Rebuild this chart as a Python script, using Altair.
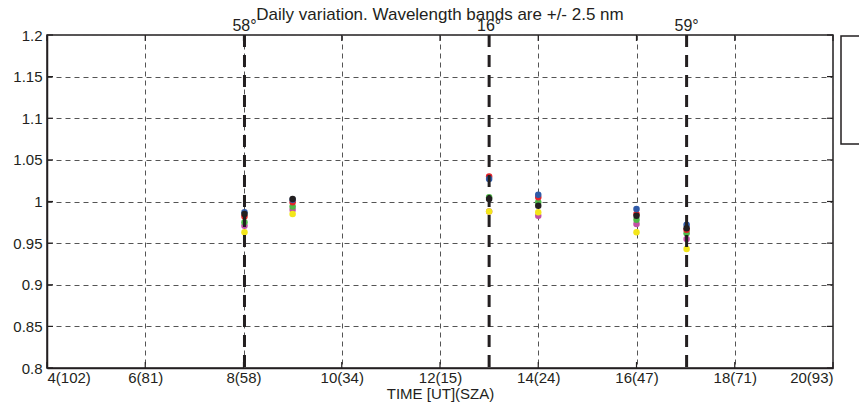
import altair as alt
import pandas as pd

# ---- data ----
times = [8.02, 9.0, 13.0, 14.0, 16.0, 17.02]
series_names = ["Band 1", "Band 2", "Band 3", "Band 4", "Band 5", "Band 6"]
series_colors = ["#c24fa6", "#f3e61a", "#4fb848", "#e4242b", "#2f5aa8", "#231f20"]
band1 = [0.971, 0.990, 0.988, 0.983, 0.973, 0.955]   # magenta
band2 = [0.963, 0.985, 0.988, 0.987, 0.963, 0.943]   # yellow
band3 = [0.975, 0.994, 1.005, 0.999, 0.978, 0.962]   # green
band4 = [0.982, 0.999, 1.030, 1.005, 0.985, 0.966]   # red
band5 = [0.987, 1.002, 1.027, 1.008, 0.991, 0.972]   # blue
band6 = [0.985, 1.003, 1.003, 0.995, 0.983, 0.968]   # black

sza_times = [8.02, 13.0, 17.02]
sza_labels = ["58°", "16°", "59°"]

x_ticks = [4, 6, 8, 10, 12, 14, 16, 18, 20]
x_tick_labels = ["4(102)", "6(81)", "8(58)", "10(34)", "12(15)", "14(24)", "16(47)", "18(71)", "20(93)"]
y_ticks = [0.8, 0.85, 0.9, 0.95, 1.0, 1.05, 1.1, 1.15, 1.2]

title_text = "Daily variation. Wavelength bands are +/- 2.5 nm"
x_title = "TIME [UT](SZA)"

# ---- build tables ----
rows = []
for i, (name, vals) in enumerate(zip(series_names, [band1, band2, band3, band4, band5, band6])):
    for t, v in zip(times, vals):
        rows.append({"time": t, "value": v, "band": name, "order": i})
df = pd.DataFrame(rows)
sza_df = pd.DataFrame({"time": sza_times, "label": sza_labels})
xt_df = pd.DataFrame({"t": x_ticks})
yt_df = pd.DataFrame({"v": y_ticks})

W, H = 786, 333
FONT = "Liberation Sans"

xs = alt.Scale(domain=[4, 20], nice=False, zero=False)
ys = alt.Scale(domain=[0.8, 1.2], nice=False, zero=False)

label_map = "{" + ",".join(f"'{t}':'{l}'" for t, l in zip(x_ticks, x_tick_labels)) + "}"
x_axis = alt.Axis(values=x_ticks, labelExpr=f"{label_map}[toString(datum.value)]",
                  grid=True, ticks=False, labelPadding=2, titlePadding=1)
y_axis = alt.Axis(values=y_ticks, format=".2~f", grid=True, ticks=False, labelPadding=5)


def X(field):
    return alt.X(field, scale=xs, axis=x_axis, title=x_title)


def Y(field):
    return alt.Y(field, scale=ys, axis=y_axis, title=None)


sza_lines = alt.Chart(sza_df).mark_rule(color="#231f20", strokeWidth=3, strokeDash=[12, 8]).encode(
    x=X("time:Q"),
)

sza_text = alt.Chart(sza_df).mark_text(font=FONT, fontSize=16, baseline="bottom", color="#231f20").encode(
    x=X("time:Q"),
    y=alt.value(-1),
    text="label:N",
)

points = alt.Chart(df).mark_circle(size=42, opacity=1).encode(
    x=X("time:Q"),
    y=Y("value:Q"),
    color=alt.Color("band:N", scale=alt.Scale(domain=series_names, range=series_colors), legend=None),
    order=alt.Order("order:Q"),
)

tick_style = dict(color="#231f20", strokeWidth=1.2)
left_ticks = alt.Chart(yt_df).mark_rule(**tick_style).encode(
    y=Y("v:Q"), x=alt.value(0), x2=alt.value(6))
right_ticks = alt.Chart(yt_df).mark_rule(**tick_style).encode(
    y=Y("v:Q"), x=alt.value(W - 6), x2=alt.value(W))
bottom_ticks = alt.Chart(xt_df).mark_rule(**tick_style).encode(
    x=X("t:Q"), y=alt.value(H - 6), y2=alt.value(H))
top_ticks = alt.Chart(xt_df).mark_rule(**tick_style).encode(
    x=X("t:Q"), y=alt.value(0), y2=alt.value(6))

legend_box = alt.Chart(pd.DataFrame({"k": [0]})).mark_rect(
    fill="white", stroke="#231f20", strokeWidth=1.5).encode(
    x=alt.value(W + 8), x2=alt.value(W + 80), y=alt.value(1), y2=alt.value(109))

chart = alt.layer(
    points, sza_lines, sza_text,
    left_ticks, right_ticks, bottom_ticks, top_ticks, legend_box,
).properties(
    width=W, height=H,
    title=alt.TitleParams(title_text, font=FONT, fontSize=17, fontWeight="normal",
                          color="#231f20", offset=-6, anchor="middle"),
    autosize=alt.AutoSizeParams(type="none"),
    padding={"left": 39, "top": 27, "right": 26, "bottom": 36},
).configure_view(
    stroke="#231f20", strokeWidth=1.5,
).configure_axis(
    labelFont=FONT, titleFont=FONT, labelFontSize=15, titleFontSize=15,
    labelColor="#231f20", titleColor="#231f20", titleFontWeight="normal",
    domainColor="#231f20", domainWidth=1.5,
    gridColor="#555555", gridDash=[5, 4], gridWidth=1, gridOpacity=1,
)

chart.save("out.html", embed_options={"renderer": "svg", "actions": False})
